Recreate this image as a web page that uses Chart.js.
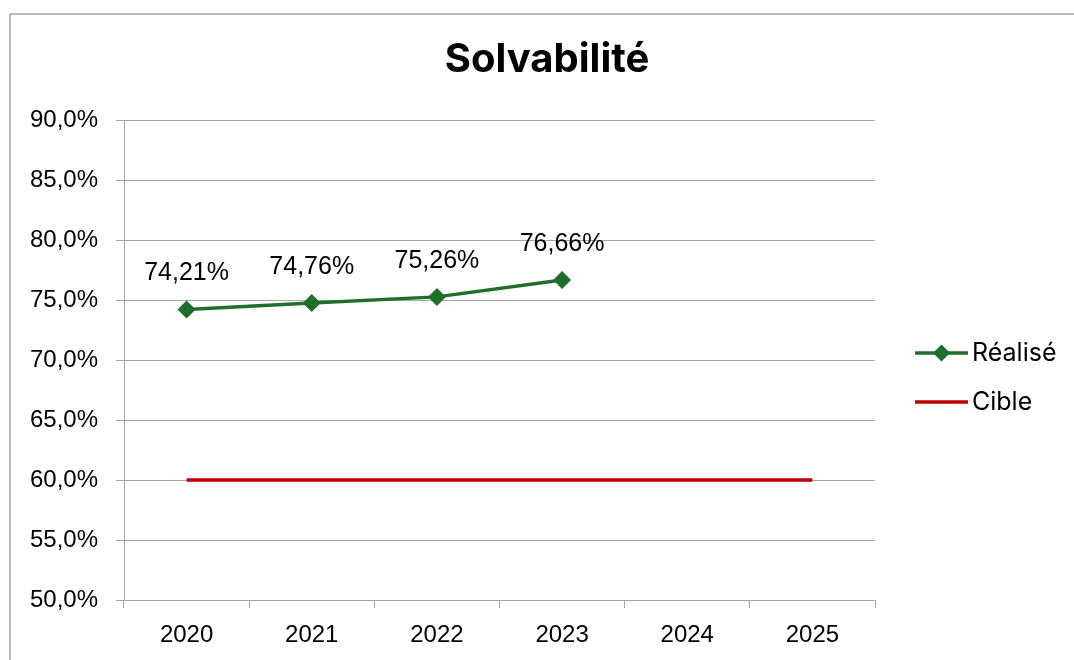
<!DOCTYPE html>
<html>
<head>
<meta charset="utf-8">
<script src="https://cdn.jsdelivr.net/npm/chart.js@4"></script>
<style>
  html, body { margin: 0; padding: 0; background: #fff; }
  #wrap { width: 1074px; height: 660px; position: relative; }
</style>
</head>
<body>
<div id="wrap"><canvas id="chart"></canvas></div>
<script>
// data
const years = ['2020', '2021', '2022', '2023', '2024', '2025'];
const realise = [74.21, 74.76, 75.26, 76.66, null, null];
const cible = [60, 60, 60, 60, 60, 60];
const seriesNames = ['Réalisé', 'Cible'];
const yMin = 50, yMax = 90, yStep = 5;

const GREEN = '#1f6e2b';
const RED = '#c00000';
const GRID = '#a6a6a6';
const tickFont = { family: '"Liberation Sans", Arial, sans-serif', size: 24 };
const labelFont = { family: '"Liberation Sans", Arial, sans-serif', size: 25 };
const legendFont = { family: 'Inter, "Liberation Sans", sans-serif', size: 25 };
const LEG_PAD = 24, LEG_BOX = 36;

const fmtTick = v => v.toFixed(1).replace('.', ',') + '%';
const fmtLabel = v => v.toFixed(2).replace('.', ',') + '%';

// little line(+diamond) swatches for the legend
function swatch(color, diamond) {
  const c = document.createElement('canvas');
  c.width = 53; c.height = 20;
  const g = c.getContext('2d');
  g.strokeStyle = color; g.lineWidth = 3.5;
  g.beginPath(); g.moveTo(0, 10); g.lineTo(53, 10); g.stroke();
  if (diamond) {
    g.fillStyle = color;
    g.beginPath();
    g.moveTo(26.5, 1.5); g.lineTo(35, 10); g.lineTo(26.5, 18.5); g.lineTo(18, 10);
    g.closePath(); g.fill();
  }
  return c;
}
const swatches = [swatch(GREEN, true), swatch(RED, false)];

// reserve room on the right so the plot ends where the reference does
const m = document.createElement('canvas').getContext('2d');
m.font = legendFont.size + 'px ' + legendFont.family;
const legendW = LEG_PAD + LEG_BOX + legendFont.size / 2 + Math.max(...seriesNames.map(t => m.measureText(t).width));
const padRight = Math.max(0, 1074 - 875 - legendW - 10);

const frame = {
  id: 'frame',
  beforeDraw(chart) {
    const ctx = chart.ctx;
    ctx.save();
    ctx.fillStyle = '#fff';
    ctx.fillRect(0, 0, chart.width, chart.height);
    ctx.strokeStyle = GRID;
    ctx.lineWidth = 1.5;
    ctx.strokeRect(10, 14, chart.width + 20, chart.height + 20);
    ctx.restore();
  }
};

// Excel-style placement: legend a bit off the plot and lower, title centred inside the frame
const placeBoxes = {
  id: 'placeBoxes',
  afterLayout(chart) {
    const l = chart.legend, a = chart.chartArea;
    const dx = a.right + 24.5 - l.left;
    l.left += dx; l.right += dx;
    l.top = a.top; l.bottom = a.bottom + 35;
    const t = chart.titleBlock;
    t.left = 20; t.right = chart.width;
  }
};

const pointLabels = {
  id: 'pointLabels',
  afterDatasetsDraw(chart) {
    const ctx = chart.ctx;
    const meta = chart.getDatasetMeta(0);
    ctx.save();
    ctx.font = labelFont.size + 'px ' + labelFont.family;
    ctx.fillStyle = '#000';
    ctx.textAlign = 'center';
    ctx.textBaseline = 'middle';
    meta.data.forEach((pt, i) => {
      if (realise[i] == null) return;
      ctx.fillText(fmtLabel(realise[i]), pt.x, pt.y - 36);
    });
    ctx.restore();
  }
};

new Chart(document.getElementById('chart'), {
  type: 'line',
  data: {
    labels: years,
    datasets: [
      {
        label: seriesNames[0],
        data: realise,
        borderColor: GREEN,
        backgroundColor: GREEN,
        borderWidth: 3.5,
        pointStyle: 'rectRot',
        pointRadius: 9,
        pointBorderWidth: 0,
        tension: 0
      },
      {
        label: seriesNames[1],
        data: cible,
        borderColor: RED,
        backgroundColor: RED,
        borderWidth: 3.5,
        pointRadius: 0,
        tension: 0
      }
    ]
  },
  options: {
    responsive: true,
    maintainAspectRatio: false,
    animation: false,
    devicePixelRatio: 1,
    layout: { padding: { left: 0, right: padRight, top: 0, bottom: 0 } },
    plugins: {
      title: {
        display: true,
        text: 'Solvabilité',
        color: '#000',
        font: { family: 'Inter, "Liberation Sans", sans-serif', size: 40, weight: 'bold', lineHeight: 1.2 },
        padding: { top: 36, bottom: 36 }
      },
      legend: {
        position: 'right',
        labels: {
          color: '#000',
          font: legendFont,
          usePointStyle: true,
          pointStyleWidth: LEG_BOX,
          padding: LEG_PAD,
          generateLabels(chart) {
            const items = Chart.defaults.plugins.legend.labels.generateLabels(chart);
            items.forEach((it, i) => { it.pointStyle = swatches[i]; });
            return items;
          }
        }
      },
      tooltip: { enabled: false }
    },
    scales: {
      x: {
        offset: true,
        grid: { display: true, offset: true, drawOnChartArea: false, drawTicks: true, tickLength: 8, color: GRID },
        border: { display: true, color: GRID },
        ticks: { color: '#000', font: tickFont, padding: 13, maxRotation: 0 },
        afterFit(s) { s.height = 60; }
      },
      y: {
        min: yMin,
        max: yMax,
        ticks: { stepSize: yStep, color: '#000', font: tickFont, padding: 18, callback: v => fmtTick(v) },
        grid: { color: GRID, tickLength: 8 },
        border: { display: true, color: GRID },
        afterFit(s) { s.width = 124; }
      }
    }
  },
  plugins: [frame, placeBoxes, pointLabels]
});
</script>
</body>
</html>
